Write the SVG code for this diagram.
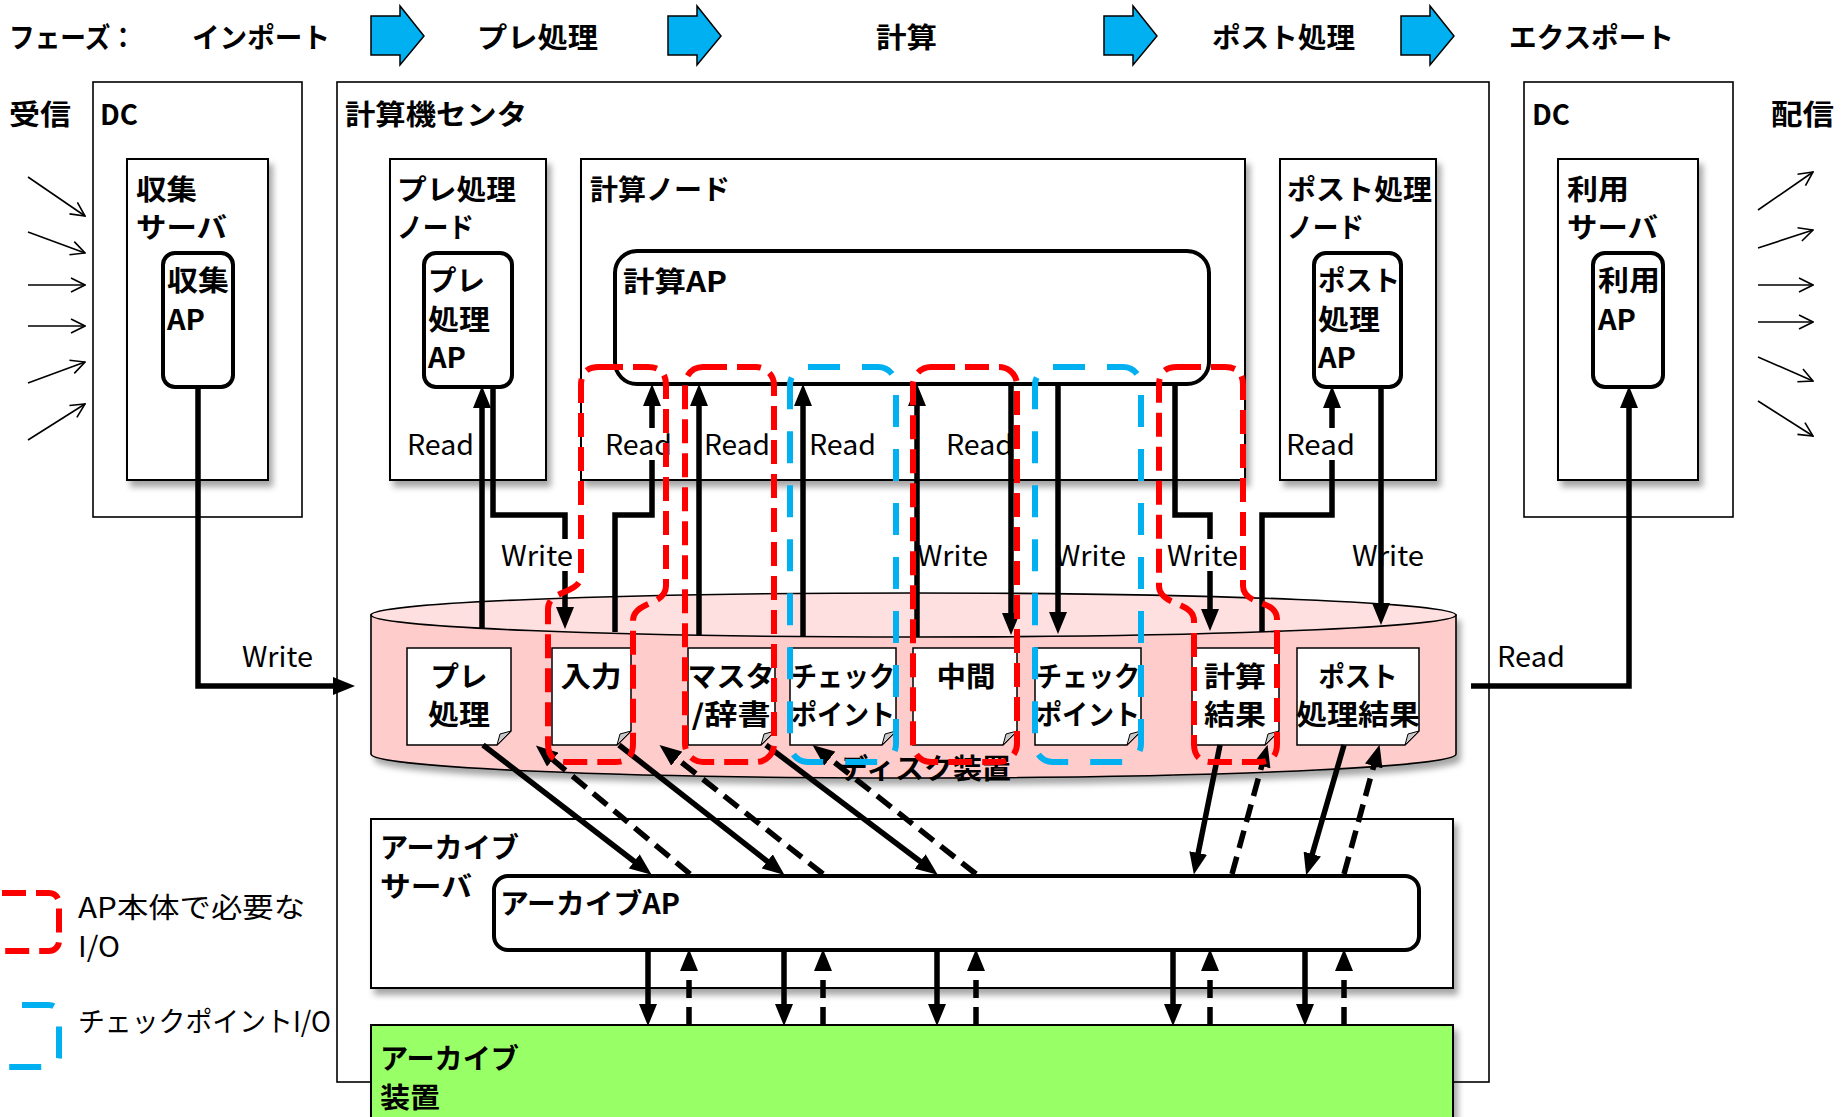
<svg xmlns="http://www.w3.org/2000/svg" width="1848" height="1117" viewBox="0 0 1848 1117">
<defs>
<style>
.t{font-family:"Noto Sans CJK JP","Noto Sans CJK SC",sans-serif;font-size:28px;font-weight:bold;fill:#000;dominant-baseline:central}
.l{font-family:"Noto Sans CJK JP","Noto Sans CJK SC",sans-serif;font-size:28px;font-weight:normal;fill:#000;dominant-baseline:central}
.m{text-anchor:middle}
.box{fill:#fff;stroke:#000;stroke-width:1.6}
.node{fill:#fff;stroke:#000;stroke-width:2;filter:url(#sh)}
.ap{fill:#fff;stroke:#000;stroke-width:4}
.doc{fill:#fff;stroke:#000;stroke-width:1.5}
.fold{fill:#c8c8c8;stroke:#000;stroke-width:1}
.c{fill:none;stroke:#000;stroke-width:5.5;marker-end:url(#ah)}
.cd{fill:none;stroke:#000;stroke-width:5.5;stroke-dasharray:18 9;marker-end:url(#ah)}
.thin{fill:none;stroke:#000;stroke-width:1.6;marker-end:url(#oa)}
.red{fill:none;stroke:#ff0000;stroke-width:6;stroke-dasharray:24 10}
.blue{fill:none;stroke:#00b0f0;stroke-width:6;stroke-dasharray:32 22}
.ph{fill:#00b0f0;stroke:#000;stroke-width:1.5}
.bg{fill:#fff}
</style>
<filter id="sh" x="-10%" y="-10%" width="125%" height="125%">
<feDropShadow dx="4" dy="6" stdDeviation="3" flood-color="#000" flood-opacity="0.35"/>
</filter>
<marker id="ah" viewBox="0 0 22 18" refX="1" refY="9" markerWidth="22" markerHeight="18" markerUnits="userSpaceOnUse" orient="auto">
<path d="M0,0 L22,9 L0,18 Z" fill="#000"/>
</marker>
<marker id="oa" viewBox="0 0 16 16" refX="15" refY="8" markerWidth="16" markerHeight="16" markerUnits="userSpaceOnUse" orient="auto">
<path d="M1,1 L15,8 L1,15" fill="none" stroke="#000" stroke-width="1.6"/>
</marker>
</defs>
<rect width="1848" height="1117" fill="#fff"/>

<g id="phases">
<text class="t" x="9" y="36" textLength="127" lengthAdjust="spacingAndGlyphs">フェーズ：</text>
<text class="t" x="192" y="36" textLength="138" lengthAdjust="spacingAndGlyphs">インポート</text>
<polygon class="ph" points="371,16 400,16 400,6 424,36 400,65 400,55 371,55"/>
<text class="t" x="477" y="36" textLength="121" lengthAdjust="spacingAndGlyphs">プレ処理</text>
<polygon class="ph" points="668,16 697,16 697,6 721,36 697,65 697,55 668,55"/>
<text class="t" x="876" y="36" textLength="61" lengthAdjust="spacingAndGlyphs">計算</text>
<polygon class="ph" points="1104,16 1133,16 1133,6 1157,36 1133,65 1133,55 1104,55"/>
<text class="t" x="1212" y="36" textLength="143" lengthAdjust="spacingAndGlyphs">ポスト処理</text>
<polygon class="ph" points="1401,16 1430,16 1430,6 1454,36 1430,65 1430,55 1401,55"/>
<text class="t" x="1509" y="36" textLength="165" lengthAdjust="spacingAndGlyphs">エクスポート</text>
</g>

<g id="center">
<rect class="box" x="337" y="82" width="1152" height="1000"/>
<text class="t" x="345" y="113" textLength="182" lengthAdjust="spacingAndGlyphs">計算機センタ</text>
</g>

<g id="dc-left">
<text class="t" x="9" y="113" textLength="62" lengthAdjust="spacingAndGlyphs">受信</text>
<rect class="box" x="93" y="82" width="209" height="435"/>
<text class="t" x="100" y="113" textLength="38" lengthAdjust="spacingAndGlyphs">DC</text>
</g>
<g id="collect-server">
<rect class="node" x="127" y="159" width="141" height="321"/>
<text class="t" x="136" y="188" textLength="61" lengthAdjust="spacingAndGlyphs">収集</text>
<text class="t" x="136" y="226" textLength="91" lengthAdjust="spacingAndGlyphs">サーバ</text>
</g>
<g id="collect-ap">
<rect class="ap" x="163" y="253" width="70" height="134" rx="12"/>
<text class="t" x="167" y="279" textLength="62" lengthAdjust="spacingAndGlyphs">収集</text>
<text class="t" x="167" y="318" textLength="38" lengthAdjust="spacingAndGlyphs">AP</text>
</g>

<g id="dc-right">
<rect class="box" x="1524" y="82" width="209" height="435"/>
<text class="t" x="1532" y="113" textLength="38" lengthAdjust="spacingAndGlyphs">DC</text>
<text class="t" x="1771" y="113" textLength="63" lengthAdjust="spacingAndGlyphs">配信</text>
</g>
<g id="use-server">
<rect class="node" x="1558" y="159" width="140" height="321"/>
<text class="t" x="1567" y="188" textLength="62" lengthAdjust="spacingAndGlyphs">利用</text>
<text class="t" x="1567" y="226" textLength="91" lengthAdjust="spacingAndGlyphs">サーバ</text>
</g>
<g id="use-ap">
<rect class="ap" x="1593" y="253" width="70" height="134" rx="12"/>
<text class="t" x="1598" y="279" textLength="62" lengthAdjust="spacingAndGlyphs">利用</text>
<text class="t" x="1598" y="318" textLength="38" lengthAdjust="spacingAndGlyphs">AP</text>
</g>

<g id="pre-node">
<rect class="node" x="390" y="159" width="156" height="321"/>
<text class="t" x="397" y="188" textLength="119" lengthAdjust="spacingAndGlyphs">プレ処理</text>
<text class="t" x="397" y="226" textLength="77" lengthAdjust="spacingAndGlyphs">ノード</text>
</g>
<g id="pre-ap">
<rect class="ap" x="424" y="253" width="88" height="134" rx="12"/>
<text class="t" x="428" y="279" textLength="57" lengthAdjust="spacingAndGlyphs">プレ</text>
<text class="t" x="428" y="318" textLength="62" lengthAdjust="spacingAndGlyphs">処理</text>
<text class="t" x="428" y="356" textLength="38" lengthAdjust="spacingAndGlyphs">AP</text>
</g>

<g id="calc-node">
<rect class="node" x="581" y="159" width="664" height="321"/>
<text class="t" x="590" y="188" textLength="140" lengthAdjust="spacingAndGlyphs">計算ノード</text>
</g>
<g id="calc-ap">
<rect class="ap" x="615" y="251" width="594" height="133" rx="22"/>
<text class="t" x="623" y="280" textLength="104" lengthAdjust="spacingAndGlyphs">計算AP</text>
</g>

<g id="post-node">
<rect class="node" x="1280" y="159" width="156" height="321"/>
<text class="t" x="1287" y="188" textLength="145" lengthAdjust="spacingAndGlyphs">ポスト処理</text>
<text class="t" x="1287" y="226" textLength="77" lengthAdjust="spacingAndGlyphs">ノード</text>
</g>
<g id="post-ap">
<rect class="ap" x="1314" y="253" width="87" height="134" rx="12"/>
<text class="t" x="1318" y="279" textLength="82" lengthAdjust="spacingAndGlyphs">ポスト</text>
<text class="t" x="1318" y="318" textLength="62" lengthAdjust="spacingAndGlyphs">処理</text>
<text class="t" x="1318" y="356" textLength="38" lengthAdjust="spacingAndGlyphs">AP</text>
</g>

<g id="disk">
<path d="M371,615 V754 A542.5,24 0 0 0 1456,754 V615 Z" fill="#ffcccc" stroke="#000" stroke-width="1.6" filter="url(#sh)"/>
<ellipse cx="913.5" cy="615" rx="542.5" ry="22" fill="#ffe0e0" stroke="#000" stroke-width="1.6"/>
<text class="t" x="839" y="767" textLength="172" lengthAdjust="spacingAndGlyphs">ディスク装置</text>
</g>

<g id="doc-pre">
<path class="doc" d="M407,648 H511 V731 L497,745 H407 Z"/><path class="fold" d="M511,731 L497,745 L500,734 Z"/>
<text class="t m" x="459" y="675" textLength="57" lengthAdjust="spacingAndGlyphs">プレ</text>
<text class="t m" x="459" y="713" textLength="62" lengthAdjust="spacingAndGlyphs">処理</text>
</g>
<g id="doc-input">
<path class="doc" d="M552,648 H631 V731 L617,745 H552 Z"/><path class="fold" d="M631,731 L617,745 L620,734 Z"/>
<text class="t m" x="591" y="675" textLength="61" lengthAdjust="spacingAndGlyphs">入力</text>
</g>
<g id="doc-master">
<path class="doc" d="M688,648 H775 V731 L761,745 H688 Z"/><path class="fold" d="M775,731 L761,745 L764,734 Z"/>
<text class="t m" x="731" y="675" textLength="87" lengthAdjust="spacingAndGlyphs">マスタ</text>
<text class="t m" x="731" y="713" textLength="79" lengthAdjust="spacingAndGlyphs">/辞書</text>
</g>
<g id="doc-cp1">
<path class="doc" d="M790,648 H896 V731 L882,745 H790 Z"/><path class="fold" d="M896,731 L882,745 L885,734 Z"/>
<text class="t m" x="843" y="675" textLength="104" lengthAdjust="spacingAndGlyphs">チェック</text>
<text class="t m" x="843" y="713" textLength="104" lengthAdjust="spacingAndGlyphs">ポイント</text>
</g>
<g id="doc-mid">
<path class="doc" d="M913,648 H1017 V731 L1003,745 H913 Z"/><path class="fold" d="M1017,731 L1003,745 L1006,734 Z"/>
<text class="t m" x="966" y="675" textLength="59" lengthAdjust="spacingAndGlyphs">中間</text>
</g>
<g id="doc-cp2">
<path class="doc" d="M1035,648 H1141 V731 L1127,745 H1035 Z"/><path class="fold" d="M1141,731 L1127,745 L1130,734 Z"/>
<text class="t m" x="1088" y="675" textLength="104" lengthAdjust="spacingAndGlyphs">チェック</text>
<text class="t m" x="1088" y="713" textLength="104" lengthAdjust="spacingAndGlyphs">ポイント</text>
</g>
<g id="doc-result">
<path class="doc" d="M1192,648 H1279 V731 L1265,745 H1192 Z"/><path class="fold" d="M1279,731 L1265,745 L1268,734 Z"/>
<text class="t m" x="1235" y="675" textLength="62" lengthAdjust="spacingAndGlyphs">計算</text>
<text class="t m" x="1235" y="713" textLength="62" lengthAdjust="spacingAndGlyphs">結果</text>
</g>
<g id="doc-post">
<path class="doc" d="M1297,648 H1419 V731 L1405,745 H1297 Z"/><path class="fold" d="M1419,731 L1405,745 L1408,734 Z"/>
<text class="t m" x="1358" y="675" textLength="79" lengthAdjust="spacingAndGlyphs">ポスト</text>
<text class="t m" x="1358" y="713" textLength="124" lengthAdjust="spacingAndGlyphs">処理結果</text>
</g>

<g id="archive-server">
<rect class="node" x="371" y="819" width="1082" height="169"/>
<text class="t" x="380" y="846" textLength="139" lengthAdjust="spacingAndGlyphs">アーカイブ</text>
<text class="t" x="380" y="885" textLength="92" lengthAdjust="spacingAndGlyphs">サーバ</text>
</g>
<g id="archive-ap">
<rect class="ap" x="494" y="876" width="925" height="74" rx="14"/>
<text class="t" x="500" y="902" textLength="180" lengthAdjust="spacingAndGlyphs">アーカイブAP</text>
</g>
<g id="archive-device">
<rect x="371" y="1025" width="1082" height="110" fill="#99ff66" stroke="#000" stroke-width="2" filter="url(#sh)"/>
<text class="t" x="380" y="1057" textLength="139" lengthAdjust="spacingAndGlyphs">アーカイブ</text>
<text class="t" x="380" y="1096" textLength="60" lengthAdjust="spacingAndGlyphs">装置</text>
</g>

<g id="connectors">
<path class="thin" d="M28,177 L85,216"/>
<path class="thin" d="M28,232 L85,253"/>
<path class="thin" d="M28,285 L85,285"/>
<path class="thin" d="M28,326 L85,326"/>
<path class="thin" d="M28,383 L85,362"/>
<path class="thin" d="M28,440 L85,404"/>
<path class="thin" d="M1758,210 L1813,172"/>
<path class="thin" d="M1758,248 L1813,230"/>
<path class="thin" d="M1758,285 L1813,285"/>
<path class="thin" d="M1758,322 L1813,322"/>
<path class="thin" d="M1758,357 L1813,381"/>
<path class="thin" d="M1758,401 L1813,436"/>

<path class="c" d="M198,387 V686 H334"/>
<path class="c" d="M482,628 V407"/>
<path class="c" d="M493,387 V515 H565 V608"/>
<path class="c" d="M615,632 V515 H652 V405"/>
<path class="c" d="M699,635 V405"/>
<path class="c" d="M803,636 V405"/>
<path class="c" d="M917,637 V405"/>
<path class="c" d="M1011,384 V614"/>
<path class="c" d="M1058,384 V613"/>
<path class="c" d="M1175,384 V515 H1210 V610"/>
<path class="c" d="M1262,632 V515 H1332 V407"/>
<path class="c" d="M1381,387 V604"/>
<path class="c" d="M1471,686 H1629 V407"/>

<path class="c" d="M483,745 L635,862"/>
<path class="cd" d="M690,874 L552,759"/>
<path class="c" d="M619,745 L768,862"/>
<path class="cd" d="M823,874 L676,758"/>
<path class="c" d="M766,745 L921,862"/>
<path class="cd" d="M976,874 L829,758"/>
<path class="c" d="M1220,745 L1198,854"/>
<path class="cd" d="M1232,874 L1262,765"/>
<path class="c" d="M1344,745 L1312,855"/>
<path class="cd" d="M1344,874 L1374,765"/>

<path class="c" d="M648,950 V1005"/>
<path class="cd" d="M689,1025 V970"/>
<path class="c" d="M784,950 V1005"/>
<path class="cd" d="M823,1025 V970"/>
<path class="c" d="M937,950 V1005"/>
<path class="cd" d="M976,1025 V970"/>
<path class="c" d="M1173,950 V1005"/>
<path class="cd" d="M1210,1025 V970"/>
<path class="c" d="M1305,950 V1005"/>
<path class="cd" d="M1344,1025 V970"/>
</g>

<g id="io-labels">
<text class="l" x="407" y="443" textLength="67" lengthAdjust="spacingAndGlyphs">Read</text>
<rect class="bg" x="603" y="428" width="70" height="32"/>
<text class="l" x="605" y="443" textLength="67" lengthAdjust="spacingAndGlyphs">Read</text>
<text class="l" x="704" y="443" textLength="66" lengthAdjust="spacingAndGlyphs">Read</text>
<text class="l" x="809" y="443" textLength="67" lengthAdjust="spacingAndGlyphs">Read</text>
<text class="l" x="946" y="443" textLength="67" lengthAdjust="spacingAndGlyphs">Read</text>
<rect class="bg" x="1284" y="428" width="72" height="32"/>
<text class="l" x="1286" y="443" textLength="69" lengthAdjust="spacingAndGlyphs">Read</text>
<rect class="bg" x="499" y="539" width="76" height="32"/>
<text class="l" x="501" y="554" textLength="72" lengthAdjust="spacingAndGlyphs">Write</text>
<text class="l" x="917" y="554" textLength="71" lengthAdjust="spacingAndGlyphs">Write</text>
<text class="l" x="1055" y="554" textLength="71" lengthAdjust="spacingAndGlyphs">Write</text>
<rect class="bg" x="1165" y="539" width="75" height="32"/>
<text class="l" x="1167" y="554" textLength="71" lengthAdjust="spacingAndGlyphs">Write</text>
<text class="l" x="1352" y="554" textLength="72" lengthAdjust="spacingAndGlyphs">Write</text>
<text class="l" x="242" y="655" textLength="71" lengthAdjust="spacingAndGlyphs">Write</text>
<text class="l" x="1497" y="655" textLength="68" lengthAdjust="spacingAndGlyphs">Read</text>
</g>

<g id="io-groups">
<path class="red" d="M599,367 H648 Q666,367 666,385 V586 C666,606 633,601 633,621 V744 Q633,762 615,762 H566 Q548,762 548,744 V609 C548,589 581,595 581,575 V385 Q581,367 599,367 Z"/>
<rect class="red" x="685" y="367" width="89" height="395" rx="18"/>
<rect class="blue" x="790" y="367" width="106" height="395" rx="18"/>
<rect class="red" x="913" y="367" width="104" height="395" rx="18"/>
<rect class="blue" x="1035" y="367" width="106" height="395" rx="18"/>
<path class="red" d="M1177,367 H1225 Q1243,367 1243,385 V586 C1243,606 1277,599 1277,619 V744 Q1277,762 1259,762 H1212 Q1194,762 1194,744 V621 C1194,601 1159,606 1159,586 V385 Q1159,367 1177,367 Z"/>
</g>

<g id="legend">
<rect class="red" x="-42" y="893" width="101" height="58" rx="10"/>
<text class="l" x="78" y="906" textLength="227" lengthAdjust="spacingAndGlyphs">AP本体で必要な</text>
<text class="l" x="78" y="945" textLength="42" lengthAdjust="spacingAndGlyphs">I/O</text>
<rect class="blue" x="-42" y="1005" width="101" height="62" rx="10"/>
<text class="l" x="78" y="1020" textLength="253" lengthAdjust="spacingAndGlyphs">チェックポイントI/O</text>
</g>
</svg>
